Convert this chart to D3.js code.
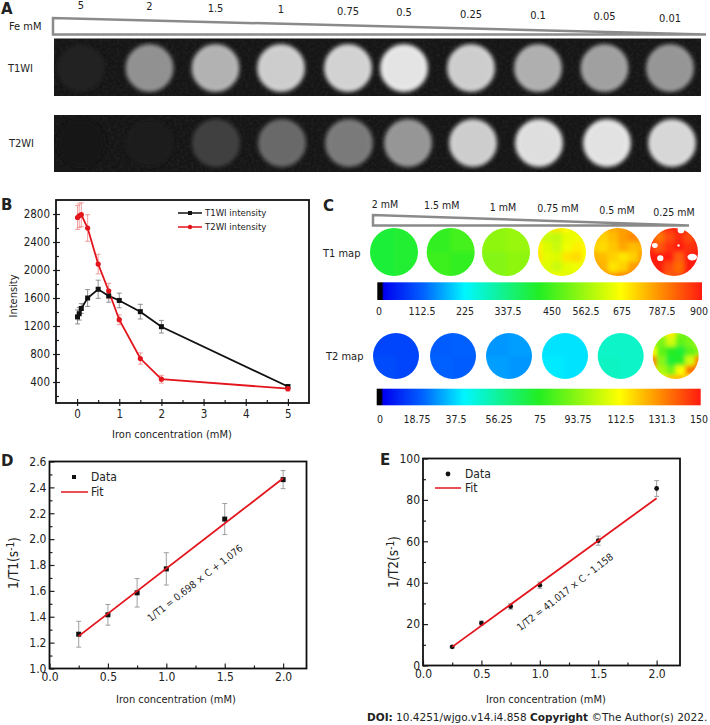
<!DOCTYPE html>
<html>
<head>
<meta charset="utf-8">
<script src="https://cdnjs.cloudflare.com/ajax/libs/d3/7.8.5/d3.min.js"></script>
<style>
  body { margin: 0; background: #fff; }
  svg { display: block; }
  text { font-family: "DejaVu Sans", sans-serif; font-stretch: condensed; fill: #222; }
  .domain { display: none; }
</style>
</head>
<body>
<svg id="chart" width="710" height="725"></svg>
<script>
// panel A
const feLabels = ["5", "2", "1.5", "1", "0.75", "0.5", "0.25", "0.1", "0.05", "0.01"];
const t1wiGray = [32, 145, 178, 205, 210, 228, 205, 175, 160, 150];
const t2wiGray = [22, 28, 64, 105, 122, 150, 205, 222, 226, 215];

// panel B
const concentration = [0.01, 0.05, 0.1, 0.25, 0.5, 0.75, 1, 1.5, 2, 5];
const t1Intensity = [1330, 1375, 1450, 1600, 1725, 1630, 1565, 1405, 1190, 335];
const t1IntensityErr = [100, 90, 70, 120, 130, 90, 105, 105, 90, 30];
const t2Intensity = [2750, 2775, 2790, 2600, 2085, 1700, 1290, 735, 440, 305];
const t2IntensityErr = [170, 170, 170, 190, 140, 110, 70, 80, 55, 35];

// panel C
const mapLabels = ["2 mM", "1.5 mM", "1 mM", "0.75 mM", "0.5 mM", "0.25 mM"];
const t1BarTicks = ["0", "112.5", "225", "337.5", "450", "562.5", "675", "787.5", "900"];
const t2BarTicks = ["0", "18.75", "37.5", "56.25", "75", "93.75", "112.5", "131.3", "150"];
const t1Maps = [
  [[430, 435], [430, 435]],
  [[465, 485], [475, 465]],
  [[560, 570], [550, 560]],
  [[650, 660, 700, 680, 640, 640],
   [640, 620, 610, 650, 660, 650],
   [690, 640, 620, 660, 690, 680],
   [700, 650, 640, 700, 710, 670],
   [660, 640, 620, 650, 660, 650],
   [640, 650, 660, 650, 640, 640]],
  [[740, 750, 760, 770, 770, 770],
   [740, 720, 740, 770, 790, 780],
   [720, 710, 730, 760, 740, 750],
   [750, 740, 720, 700, 720, 770],
   [770, 750, 700, 720, 770, 790],
   [790, 790, 770, 790, 800, 800]],
  [[885, 875, 885, 900, 900, 900],
   [875, 810, 850, 885, 850, 895],
   [885, 840, 875, 900, 875, 885],
   [900, 900, 895, 835, 895, 900],
   [900, 900, 850, 820, 895, 900],
   [900, 895, 835, 845, 900, 900]]
];
const t2Maps = [
  [[16, 16], [17, 16]],
  [[20, 21], [21, 20]],
  [[28, 29], [29, 28]],
  [[38, 38], [39, 38]],
  [[49, 49], [50, 49]],
  [[85, 100, 115, 90, 85, 85],
   [95, 90, 105, 85, 90, 98],
   [112, 85, 76, 72, 85, 92],
   [135, 92, 72, 76, 105, 135],
   [125, 98, 88, 112, 135, 142],
   [102, 110, 122, 125, 115, 102]]
];
// pixels with no fit in the 0.25 mM T1 map, in units of the disc radius
const t1Holes = [[-0.8, -0.27, 0.12, 0.1], [0.19, -0.27, 0.05, 0.05], [-0.57, 0.26, 0.13, 0.12],
  [0.76, 0.21, 0.2, 0.14], [0.29, -0.92, 0.14, 0.14]];

// panels D and E
const fitConc = [0.25, 0.5, 0.75, 1, 1.5, 2];
const r1 = [1.265, 1.415, 1.585, 1.77, 2.155, 2.46];
const r1Err = [0.1, 0.08, 0.11, 0.125, 0.12, 0.07];
const r1FitX = [0.25, 2];
const r1FitY = [1.25, 2.47];
const r2 = [9, 20.5, 28.5, 38.8, 60.3, 85.5];
const r2Err = [0.5, 1, 1.3, 1.5, 2.2, 3.8];
const r2FitX = [0.25, 2];
const r2FitY = [9, 80.8];

const svg = d3.select("#chart");
const defs = svg.append("defs");

function addText(x, y, str, size, opts = {}) {
  return svg.append("text").attr("x", x).attr("y", y).attr("dy", "0.35em")
    .attr("text-anchor", opts.anchor || "middle")
    .attr("transform", opts.rotate ? `rotate(${opts.rotate},${x},${y})` : null)
    .style("font-size", size + "px")
    .style("font-weight", opts.bold ? "bold" : null)
    .style("font-stretch", opts.wide ? "normal" : null)
    .text(str);
}

function wedge(x0, x1, yTop, yBottom) {
  svg.append("path")
    .attr("d", d3.line()([[x0, yTop], [x0, yBottom], [x1, yBottom]]) + "Z")
    .attr("fill", "#fff").attr("stroke", "#8a8a8a").attr("stroke-width", 2.5);
}

// ---------- A ----------
const mriX = d3.scaleOrdinal().domain(feLabels).range([81, 149.5, 215.5, 281, 348, 404, 471, 538, 604.5, 670]);
const mriX2 = d3.scaleOrdinal().domain(feLabels).range([81, 149.5, 216, 282, 349, 408, 473, 539, 607, 672]);
const feLabelY = d3.scalePoint().domain(feLabels).range([5, 18]);

defs.append("filter").attr("id", "mriBlur").append("feGaussianBlur").attr("stdDeviation", 2.2);
const grain = defs.append("filter").attr("id", "grain");
grain.append("feTurbulence").attr("type", "fractalNoise").attr("baseFrequency", 0.35).attr("numOctaves", 2).attr("seed", 4);
grain.append("feColorMatrix").attr("values", "0 0 0 0 1  0 0 0 0 1  0 0 0 0 1  0.55 0 0 0 -0.2");

feLabels.forEach(d => addText(mriX(d), feLabelY(d), d, 11));
addText(9, 26, "Fe mM", 11, { anchor: "start" });
addText(8, 68, "T1WI", 11, { anchor: "start" });
addText(9, 143, "T2WI", 11, { anchor: "start" });
addText(1, 9, "A", 15, { anchor: "start", bold: true, wide: true });
wedge(53, 706, 18, 34.5);

function mriRow(levels, xScale, top, bottom, cy) {
  svg.append("rect").attr("x", 54).attr("y", top).attr("width", 647).attr("height", bottom - top)
    .attr("fill", "#151515");
  svg.append("rect").attr("x", 54).attr("y", top).attr("width", 647).attr("height", bottom - top)
    .attr("filter", "url(#grain)").attr("opacity", 0.18);
  svg.append("g").attr("filter", "url(#mriBlur)")
    .selectAll("ellipse").data(feLabels).join("ellipse")
    .attr("cx", xScale).attr("cy", cy).attr("rx", 22.5).attr("ry", 22.5)
    .attr("fill", (d, i) => d3.rgb(levels[i], levels[i], levels[i]))
    .attr("stroke", (d, i) => d3.rgb(levels[i], levels[i], levels[i]).brighter(0.3))
    .attr("stroke-width", 2.5);
}
mriRow(t1wiGray, mriX, 38.5, 96, 68);
mriRow(t2wiGray, mriX2, 115, 172, 143);

// ---------- shared plot frame ----------
// outward is how far major ticks cross the frame, the rest point inward
function frame(x, y, xTicks, xMinor, yTicks, yMinor, xFmt, yFmt, size, outward) {
  const [x0, x1] = x.range();
  const [y1, y0] = y.range();
  svg.append("g").attr("transform", `translate(0,${y1})`)
    .call(d3.axisBottom(x).tickValues(xMinor).tickSize(-3).tickFormat(""));
  const gxMajor = svg.append("g").attr("transform", `translate(0,${y1})`)
    .call(d3.axisBottom(x).tickValues(xTicks).tickSize(-5).tickPadding(outward + 4).tickFormat(xFmt));
  svg.append("g").attr("transform", `translate(${x0},0)`)
    .call(d3.axisLeft(y).tickValues(yMinor).tickSize(-3).tickFormat(""));
  const gyMajor = svg.append("g").attr("transform", `translate(${x0},0)`)
    .call(d3.axisLeft(y).tickValues(yTicks).tickSize(-5).tickPadding(outward + 3).tickFormat(yFmt));
  gxMajor.selectAll("text").style("font-size", size + "px");
  gyMajor.selectAll("text").style("font-size", size + "px");
  gxMajor.selectAll("line").attr("y2", outward ? -4 : -5).attr("y1", outward);
  gyMajor.selectAll("line").attr("x2", outward ? 4 : 5).attr("x1", -outward);
  svg.selectAll("g.tick line").attr("stroke-width", 1.2).attr("stroke", "#222");
  svg.append("rect").attr("x", x0).attr("y", y0).attr("width", x1 - x0).attr("height", y1 - y0)
    .attr("fill", "none").attr("stroke", "#111").attr("stroke-width", 1.8);
}

function errorBars(g, xs, ys, errs, x, y, color, cap) {
  const bars = g.append("g").attr("stroke", color).attr("stroke-width", 0.8).attr("fill", "none");
  xs.forEach((v, i) => {
    const px = x(v), hi = y(ys[i] + errs[i]), lo = y(ys[i] - errs[i]);
    bars.append("path").attr("d", d3.line()([[px, hi], [px, lo]]));
    bars.append("path").attr("d", d3.line()([[px - cap, hi], [px + cap, hi]]));
    bars.append("path").attr("d", d3.line()([[px - cap, lo], [px + cap, lo]]));
  });
}

// ---------- B ----------
const xB = d3.scaleLinear().domain([-0.5, 5.5]).range([56, 309]);
const yB = d3.scaleLinear().domain([100, 3000]).range([403, 200]);
frame(xB, yB, [0, 1, 2, 3, 4, 5], [0.5, 1.5, 2.5, 3.5, 4.5],
  [400, 800, 1200, 1600, 2000, 2400, 2800], [200, 600, 1000, 1400, 1800, 2200, 2600],
  d3.format("d"), d3.format("d"), 11.5, 3);
errorBars(svg, concentration, t1Intensity, t1IntensityErr, xB, yB, "#777", 2.5);
errorBars(svg, concentration, t2Intensity, t2IntensityErr, xB, yB, "#ee8888", 2.5);
const lineB = ys => d3.line().x(d => xB(d)).y((d, i) => yB(ys[i]))(concentration);
svg.append("path").attr("d", lineB(t1Intensity)).attr("fill", "none").attr("stroke", "#111").attr("stroke-width", 1.8);
svg.append("path").attr("d", lineB(t2Intensity)).attr("fill", "none").attr("stroke", "#e3141c").attr("stroke-width", 1.8);
svg.append("g").selectAll("rect").data(concentration).join("rect")
  .attr("x", d => xB(d) - 2.5).attr("y", (d, i) => yB(t1Intensity[i]) - 2.5).attr("width", 5).attr("height", 5).attr("fill", "#111");
svg.append("g").selectAll("circle").data(concentration).join("circle")
  .attr("cx", d => xB(d)).attr("cy", (d, i) => yB(t2Intensity[i])).attr("r", 2.6).attr("fill", "#e3141c");

svg.append("line").attr("x1", 178).attr("x2", 202).attr("y1", 213).attr("y2", 213).attr("stroke", "#111").attr("stroke-width", 1.5);
svg.append("rect").attr("x", 188).attr("y", 211).attr("width", 4).attr("height", 4).attr("fill", "#111");
svg.append("line").attr("x1", 178).attr("x2", 202).attr("y1", 227).attr("y2", 227).attr("stroke", "#e3141c").attr("stroke-width", 1.5);
svg.append("circle").attr("cx", 190).attr("cy", 227).attr("r", 2.2).attr("fill", "#e3141c");
addText(205, 213, "T1WI intensity", 9.5, { anchor: "start" });
addText(205, 227, "T2WI intensity", 9.5, { anchor: "start" });
addText(13, 296, "Intensity", 11, { rotate: -90 });
addText(172, 434, "Iron concentration (mM)", 11);
addText(1, 205, "B", 15, { anchor: "start", bold: true, wide: true });

// ---------- C ----------
const jetStops = [[0, "#000"], [0.014, "#000"], [0.02, "#0000f0"], [0.14, "#0060ff"], [0.27, "#00f6ff"],
  [0.5, "#22ee22"], [0.75, "#ffff00"], [0.87, "#ff9000"], [1, "#ff1a10"]];
const jet = d3.scaleLinear().domain(jetStops.map(d => d[0])).range(jetStops.map(d => d[1])).clamp(true);

const grad = defs.append("linearGradient").attr("id", "jetBar");
jetStops.forEach(d => grad.append("stop").attr("offset", d[0]).attr("stop-color", d[1]));
defs.append("filter").attr("id", "mapBlur").attr("x", "-20%").attr("y", "-20%").attr("width", "140%").attr("height", "140%")
  .append("feGaussianBlur").attr("stdDeviation", 2.2);

let mapId = 0;
function heatDisc(cx, cy, r, grid, maxVal, holes) {
  const id = "disc" + mapId++;
  defs.append("clipPath").attr("id", id).append("circle").attr("cx", cx).attr("cy", cy).attr("r", r);
  const band = d3.scaleBand().domain(d3.range(grid.length)).range([-r * 1.25, r * 1.25]);
  const g = svg.append("g").attr("clip-path", `url(#${id})`).append("g").attr("filter", "url(#mapBlur)");
  grid.forEach((row, j) => {
    g.selectAll(null).data(row).join("rect")
      .attr("x", (d, i) => cx + band(i)).attr("y", cy + band(j))
      .attr("width", band.bandwidth() + 0.5).attr("height", band.bandwidth() + 0.5)
      .attr("fill", d => jet(d / maxVal));
  });
  if (holes) {
    svg.selectAll(null).data(holes).join("ellipse")
      .attr("cx", d => cx + d[0] * r).attr("cy", d => cy + d[1] * r)
      .attr("rx", d => d[2] * r).attr("ry", d => d[3] * r).attr("fill", "#fff");
  }
}

const t1MapX = d3.scaleOrdinal().domain(mapLabels).range([394, 450.7, 506, 562, 618, 674]);
const t2MapX = d3.scaleOrdinal().domain(mapLabels).range([396, 453, 509, 565, 620.7, 675.7]);
mapLabels.forEach((d, i) => {
  heatDisc(t1MapX(d), 252, 24, t1Maps[i], 900, i === 5 ? t1Holes : null);
  heatDisc(t2MapX(d), 356, 23, t2Maps[i], 150, null);
});

const labelX = d3.scaleOrdinal().domain(mapLabels).range([385, 441.7, 503, 558, 617, 674]);
const labelY = d3.scalePoint().domain(mapLabels).range([204, 212]);
mapLabels.forEach(d => addText(labelX(d), labelY(d), d, 10.5));
wedge(373, 689, 215, 225.5);
addText(323, 206, "C", 15, { anchor: "start", bold: true, wide: true });
addText(323, 253, "T1 map", 11, { anchor: "start" });
addText(326, 356, "T2 map", 11, { anchor: "start" });

function colorBar(x0, x1, top, bottom, ticks, tickX, tickY) {
  svg.append("rect").attr("x", x0).attr("y", top).attr("width", x1 - x0).attr("height", bottom - top)
    .attr("fill", "url(#jetBar)");
  ticks.forEach((t, i) => addText(tickX[i], tickY, t, 10.5));
}
colorBar(377.3, 702, 282.3, 300, t1BarTicks, [379, 422, 465, 508, 552, 586, 622, 662, 699], 311);
colorBar(376.7, 700.7, 388.7, 405.3, t2BarTicks, [380, 417, 456, 499, 540, 578, 621, 662, 699], 419);

// ---------- D ----------
function fitPanel(x, y, xs, ys, errs, fitX, fitY, square) {
  errorBars(svg, xs, ys, errs, x, y, "#888", 2.5);
  const fitLine = d3.line().x(d => x(d)).y((d, i) => y(fitY[i]));
  if (square) {
    svg.append("g").selectAll("rect").data(xs).join("rect")
      .attr("x", d => x(d) - 2.5).attr("y", (d, i) => y(ys[i]) - 2.5).attr("width", 5).attr("height", 5).attr("fill", "#111");
  } else {
    svg.append("g").selectAll("circle").data(xs).join("circle")
      .attr("cx", d => x(d)).attr("cy", (d, i) => y(ys[i])).attr("r", 2.4).attr("fill", "#111");
  }
  svg.append("path").attr("d", fitLine(fitX)).attr("fill", "none").attr("stroke", "#e3141c").attr("stroke-width", 1.8);
}

function yTitle(x, y, base) {
  const t = addText(x, y, base + "(s", 13.5, { rotate: -90 });
  t.append("tspan").attr("dy", "-0.4em").style("font-size", "10px").text("-1");
  t.append("tspan").attr("dy", "0.4em").text(")");
}

const xD = d3.scaleLinear().domain([0, 2.2]).range([49.5, 306.5]);
const yD = d3.scaleLinear().domain([1, 2.6]).range([668.5, 461.5]);
frame(xD, yD, [0, 0.5, 1, 1.5, 2], [0.25, 0.75, 1.25, 1.75],
  [1, 1.2, 1.4, 1.6, 1.8, 2, 2.2, 2.4, 2.6], [1.1, 1.3, 1.5, 1.7, 1.9, 2.1, 2.3, 2.5],
  d3.format(".1f"), d3.format(".1f"), 12, 0);
fitPanel(xD, yD, fitConc, r1, r1Err, r1FitX, r1FitY, true);
svg.append("rect").attr("x", 72).attr("y", 475).attr("width", 4).attr("height", 4).attr("fill", "#111");
svg.append("line").attr("x1", 61).attr("x2", 88).attr("y1", 492).attr("y2", 492).attr("stroke", "#e3141c").attr("stroke-width", 1.5);
addText(91, 477, "Data", 12, { anchor: "start" });
addText(91, 492, "Fit", 12, { anchor: "start" });
addText(195, 583, "1/T1 = 0.698 × C + 1.076", 10, { rotate: -38 });
yTitle(13, 563, "1/T1");
addText(176, 699, "Iron concentration (mM)", 11);
addText(1, 461, "D", 15, { anchor: "start", bold: true, wide: true });

// ---------- E ----------
const xE = d3.scaleLinear().domain([0, 2.2]).range([423, 680]);
const yE = d3.scaleLinear().domain([0, 100]).range([665.5, 458.5]);
frame(xE, yE, [0, 0.5, 1, 1.5, 2], [0.25, 0.75, 1.25, 1.75],
  [0, 20, 40, 60, 80, 100], [10, 30, 50, 70, 90],
  d3.format(".1f"), d3.format("d"), 12, 0);
fitPanel(xE, yE, fitConc, r2, r2Err, r2FitX, r2FitY, false);
svg.append("circle").attr("cx", 448).attr("cy", 474).attr("r", 2.4).attr("fill", "#111");
svg.append("line").attr("x1", 435).attr("x2", 461).attr("y1", 488).attr("y2", 488).attr("stroke", "#e3141c").attr("stroke-width", 1.5);
addText(465, 474, "Data", 12, { anchor: "start" });
addText(465, 488, "Fit", 12, { anchor: "start" });
addText(565, 592, "1/T2 = 41.017 × C - 1.158", 10, { rotate: -38 });
yTitle(393, 562, "1/T2");
addText(546, 699, "Iron concentration (mM)", 11);
addText(380, 460, "E", 15, { anchor: "start", bold: true, wide: true });

// source line
const doi = addText(367, 717, "", 10.5, { anchor: "start", wide: true });
doi.append("tspan").style("font-weight", "bold").text("DOI:");
doi.append("tspan").text(" 10.4251/wjgo.v14.i4.858 ");
doi.append("tspan").style("font-weight", "bold").text("Copyright");
doi.append("tspan").text(" ©The Author(s) 2022.");
</script>
</body>
</html>
